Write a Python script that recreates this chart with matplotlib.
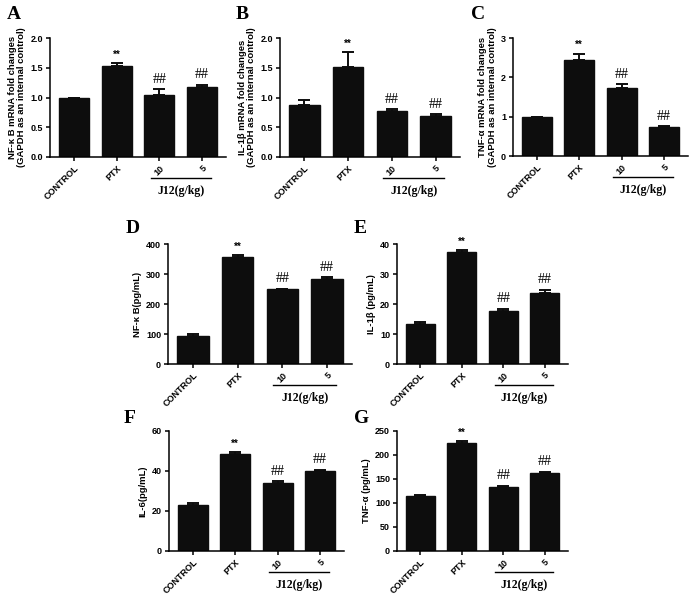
import matplotlib
matplotlib.use("Agg")
import matplotlib.pyplot as plt
import matplotlib.transforms as mtransforms

categories = ["CONTROL", "PTX", "10", "5"]
group_label = "J12(g/kg)"

# panel data
A_vals = [1.00, 1.53, 1.04, 1.17]
A_err = [0.0, 0.05, 0.10, 0.04]
B_vals = [0.88, 1.51, 0.77, 0.69]
B_err = [0.08, 0.25, 0.03, 0.03]
C_vals = [1.00, 2.43, 1.73, 0.75]
C_err = [0.0, 0.17, 0.09, 0.01]
D_vals = [93, 358, 249, 285]
D_err = [6, 4, 2, 4]
E_vals = [13.4, 37.3, 17.6, 23.8]
E_err = [0.6, 0.7, 0.9, 0.9]
F_vals = [23.0, 48.5, 34.0, 40.0]
F_err = [1.0, 1.0, 0.8, 0.5]
G_vals = [115, 224, 134, 163]
G_err = [2, 5, 2, 2]
sig_marks = ["", "**", "##", "##"]

W, H = 700, 596
fig = plt.figure(figsize=(W / 100, H / 100), dpi=100)
fig.patch.set_facecolor("white")

SANS = "Liberation Sans"
SERIF = "Liberation Serif"

panels = [
    ("A", A_vals, A_err, "NF-\u03ba B mRNA fold changes\n(GAPDH as an internal control)",
     [0, 0.5, 1.0, 1.5, 2.0], "{:.1f}", (50, 226, 38, 157), (7, 6)),
    ("B", B_vals, B_err, "IL-1\u03b2 mRNA fold changes\n(GAPDH as an internal control)",
     [0, 0.5, 1.0, 1.5, 2.0], "{:.1f}", (280, 460, 38, 157), (236, 6)),
    ("C", C_vals, C_err, "TNF-\u03b1 mRNA fold changes\n(GAPDH as an internal control)",
     [0, 1, 2, 3], "{:.0f}", (513, 688, 38, 156), (471, 6)),
    ("D", D_vals, D_err, "NF-\u03ba B(pg/mL)",
     [0, 100, 200, 300, 400], "{:.0f}", (168, 352, 244, 364), (126, 220)),
    ("E", E_vals, E_err, "IL-1\u03b2 (pg/mL)",
     [0, 10, 20, 30, 40], "{:.0f}", (397, 568, 244, 364), (354, 220)),
    ("F", F_vals, F_err, "IL-6(pg/mL)",
     [0, 20, 40, 60], "{:.0f}", (169, 344, 431, 551), (124, 410)),
    ("G", G_vals, G_err, "TNF-\u03b1 (pg/mL)",
     [0, 50, 100, 150, 200, 250], "{:.0f}", (397, 568, 431, 551), (354, 410)),
]

for letter, vals, err, ylabel, yticks, fmt, (l, r, t, b), (lx, ly) in panels:
    ax = fig.add_axes([l / W, 1 - b / H, (r - l) / W, (b - t) / H])
    x = list(range(len(categories)))
    ax.bar(x, vals, width=0.7, color="#0d0d0d", edgecolor="#0d0d0d", zorder=2)
    ax.errorbar(x, vals, yerr=[[0] * len(err), err], fmt="none", ecolor="#0d0d0d",
                elinewidth=1.4, capsize=4, capthick=1.4, zorder=3)
    ax.set_xlim(-0.56, 3.56)
    ax.set_ylim(yticks[0], yticks[-1])
    ax.set_yticks(yticks)
    ax.set_yticklabels([fmt.format(v) for v in yticks], fontfamily=SANS,
                       fontweight="bold", fontsize=6.5)
    ax.set_xticks(x)
    ax.set_xticklabels(categories, rotation=45, ha="right", rotation_mode="anchor",
                       fontfamily=SANS, fontweight="bold", fontsize=6.5)
    for s in ["top", "right"]:
        ax.spines[s].set_visible(False)
    for s in ["left", "bottom"]:
        ax.spines[s].set_linewidth(1.1)
    ax.tick_params(axis="both", direction="out", length=3, width=1.1, pad=2)
    ax.set_ylabel(ylabel, fontfamily=SANS, fontweight="bold", fontsize=6.8,
                  labelpad=3, linespacing=1.1)

    yr = yticks[-1] - yticks[0]
    for xi, v, e, m in zip(x, vals, err, sig_marks):
        if not m:
            continue
        if m == "**":
            ax.text(xi, v + e + 0.03 * yr, m, ha="center", va="bottom",
                    fontfamily=SANS, fontweight="bold", fontsize=7)
        else:
            ax.text(xi, v + e + 0.03 * yr, m, ha="center", va="bottom",
                    fontfamily=SERIF, fontsize=10)

    # group bracket below "10" and "5"
    hpx = b - t
    trans = mtransforms.blended_transform_factory(ax.transData, ax.transAxes)
    ax.plot([1.8, 3.2], [-21 / hpx, -21 / hpx], color="black", lw=1.0,
            transform=trans, clip_on=False)
    ax.text(2.5, -34 / hpx, group_label, transform=trans, ha="center", va="center",
            fontfamily=SERIF, fontweight="bold", fontsize=8.5)

    fig.text(lx / W, 1 - ly / H, letter, ha="left", va="top", fontfamily=SERIF,
             fontweight="bold", fontsize=14)

fig.savefig("out.png", dpi=100, facecolor="white")
